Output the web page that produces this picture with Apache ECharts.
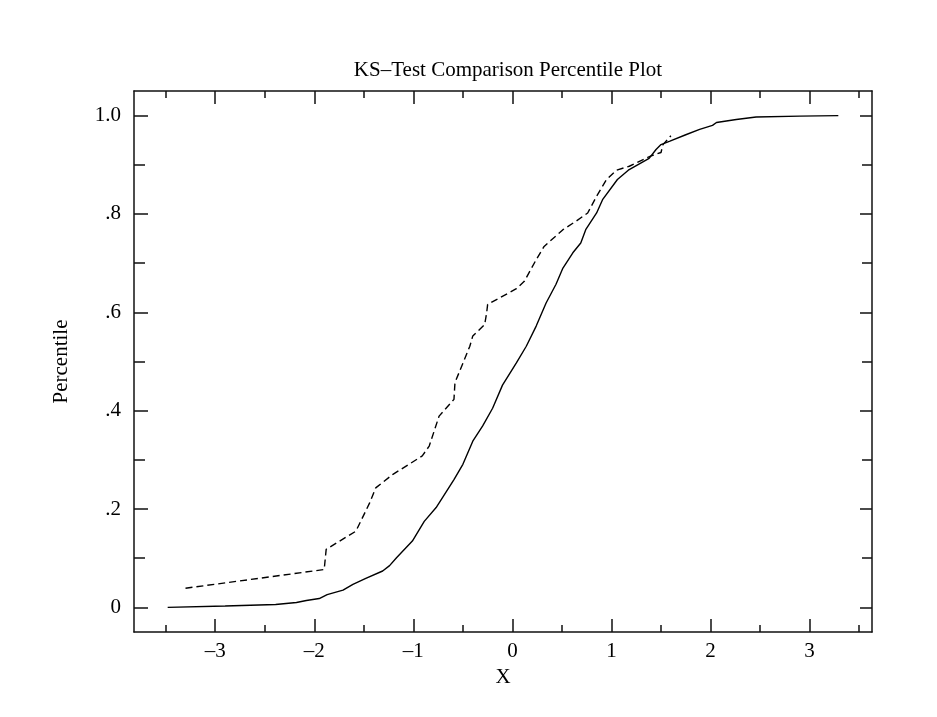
<!DOCTYPE html>
<html><head><meta charset="utf-8">
<script src="https://cdn.jsdelivr.net/npm/echarts@6/dist/echarts.min.js"></script>
<style>html,body{margin:0;padding:0;background:#fff}#chart{width:937px;height:717px}</style>
</head><body><div id="chart"></div>
<script>
const chartTitle = 'KS–Test Comparison Percentile Plot';
const xAxisName = 'X';
const yAxisName = 'Percentile';
const xMajorTicks = [-3, -2, -1, 0, 1, 2, 3];
const xTickLabels = ['–3', '–2', '–1', '0', '1', '2', '3'];
const xMinorTicks = [-3.5, -2.5, -1.5, -0.5, 0.5, 1.5, 2.5, 3.5];
const yMajorTicks = [0, 0.2, 0.4, 0.6, 0.8, 1.0];
const yTickLabels = ['0', '.2', '.4', '.6', '.8', '1.0'];
const yMinorTicks = [0.1, 0.3, 0.5, 0.7, 0.9];

const solidX = [-3.48, -2.90, -2.39, -2.18, -2.08, -1.95, -1.87, -1.71, -1.61, -1.48, -1.31, -1.24, -1.17, -1.01, -0.89, -0.77, -0.59, -0.50, -0.40, -0.30, -0.20, -0.10, 0.04, 0.14, 0.24, 0.34, 0.44, 0.51, 0.61, 0.69, 0.74, 0.85, 0.91, 1.06, 1.17, 1.38, 1.45, 1.50, 1.59, 1.75, 1.89, 2.02, 2.06, 2.26, 2.46, 2.90, 3.29];
const solidY = [0.000, 0.003, 0.006, 0.010, 0.014, 0.018, 0.026, 0.035, 0.047, 0.059, 0.074, 0.085, 0.101, 0.135, 0.175, 0.203, 0.260, 0.291, 0.338, 0.369, 0.405, 0.452, 0.497, 0.531, 0.572, 0.619, 0.657, 0.690, 0.721, 0.741, 0.768, 0.802, 0.829, 0.870, 0.889, 0.913, 0.931, 0.941, 0.948, 0.961, 0.972, 0.980, 0.986, 0.992, 0.997, 0.999, 1.000];

const dashedX = [-3.30, -1.90, -1.88, -1.58, -1.44, -1.38, -1.21, -0.91, -0.84, -0.74, -0.59, -0.58, -0.43, -0.40, -0.28, -0.26, -0.25, 0.04, 0.12, 0.24, 0.32, 0.51, 0.64, 0.76, 0.85, 0.95, 1.05, 1.18, 1.40, 1.50, 1.52, 1.60];
const dashedY = [0.039, 0.077, 0.118, 0.155, 0.213, 0.243, 0.270, 0.308, 0.328, 0.389, 0.423, 0.457, 0.531, 0.552, 0.575, 0.599, 0.616, 0.648, 0.663, 0.707, 0.734, 0.768, 0.785, 0.802, 0.836, 0.870, 0.889, 0.897, 0.918, 0.925, 0.941, 0.959];

const xMin = -3.82, xMax = 3.63, yMin = -0.05, yMax = 1.05;
const FONT = 'Liberation Serif';
const INK = '#111';

function labelFor(ticks, labels) {
  return function (v) {
    for (let i = 0; i < ticks.length; i++) if (Math.abs(ticks[i] - v) < 1e-6) return labels[i];
    return '';
  };
}
function axis(kind, pos, ticks, len, opts) {
  opts = opts || {};
  const isX = kind === 'x';
  return Object.assign({
    type: 'value', position: pos,
    min: isX ? xMin : yMin, max: isX ? xMax : yMax,
    axisLine: { show: !!opts.line, onZero: false, lineStyle: { color: INK, width: 1.5 } },
    axisTick: { show: true, inside: true, length: len, customValues: ticks, lineStyle: { color: INK, width: 1.5 } },
    axisLabel: opts.labels ? {
      show: true, customValues: ticks, formatter: labelFor(ticks, opts.labels),
      fontFamily: FONT, fontSize: 21, color: '#000', margin: isX ? 9 : 13
    } : { show: false },
    splitLine: { show: false },
    minorTick: { show: false }
  }, opts.extra || {});
}

const chart = echarts.init(document.getElementById('chart'), null, { renderer: 'canvas' });
chart.setOption({
  animation: false,
  backgroundColor: '#fff',
  title: {
    text: chartTitle, left: 503, top: 55, textAlign: 'center',
    textStyle: { fontFamily: FONT, fontSize: 21, fontWeight: 'normal', color: '#000' }
  },
  grid: { left: 134, right: 65, top: 91, bottom: 85, containLabel: false },
  xAxis: [
    axis('x', 'bottom', xMajorTicks, 13, { line: true, labels: xTickLabels, extra: {
      name: xAxisName, nameLocation: 'middle', nameGap: 33,
      nameTextStyle: { fontFamily: FONT, fontSize: 21, color: '#000' } } }),
    axis('x', 'bottom', xMinorTicks, 7),
    axis('x', 'top', xMajorTicks, 13, { line: true }),
    axis('x', 'top', xMinorTicks, 7)
  ],
  yAxis: [
    axis('y', 'left', yMajorTicks, 14, { line: true, labels: yTickLabels, extra: {
      name: yAxisName, nameLocation: 'middle', nameGap: 62,
      nameTextStyle: { fontFamily: FONT, fontSize: 21, color: '#000' } } }),
    axis('y', 'left', yMinorTicks, 11),
    axis('y', 'right', yMajorTicks, 12, { line: true }),
    axis('y', 'right', yMinorTicks, 10)
  ],
  series: [
    {
      name: 'Sample 1', type: 'line', xAxisIndex: 0, yAxisIndex: 0,
      data: solidX.map((x, i) => [x, solidY[i]]),
      showSymbol: false, symbol: 'none',
      lineStyle: { color: '#000', width: 1.4, type: 'solid' }
    },
    {
      name: 'Sample 2', type: 'line', xAxisIndex: 0, yAxisIndex: 0,
      data: dashedX.map((x, i) => [x, dashedY[i]]),
      showSymbol: false, symbol: 'none',
      lineStyle: { color: '#000', width: 1.4, type: [7, 4] }
    }
  ]
});
</script></body></html>
